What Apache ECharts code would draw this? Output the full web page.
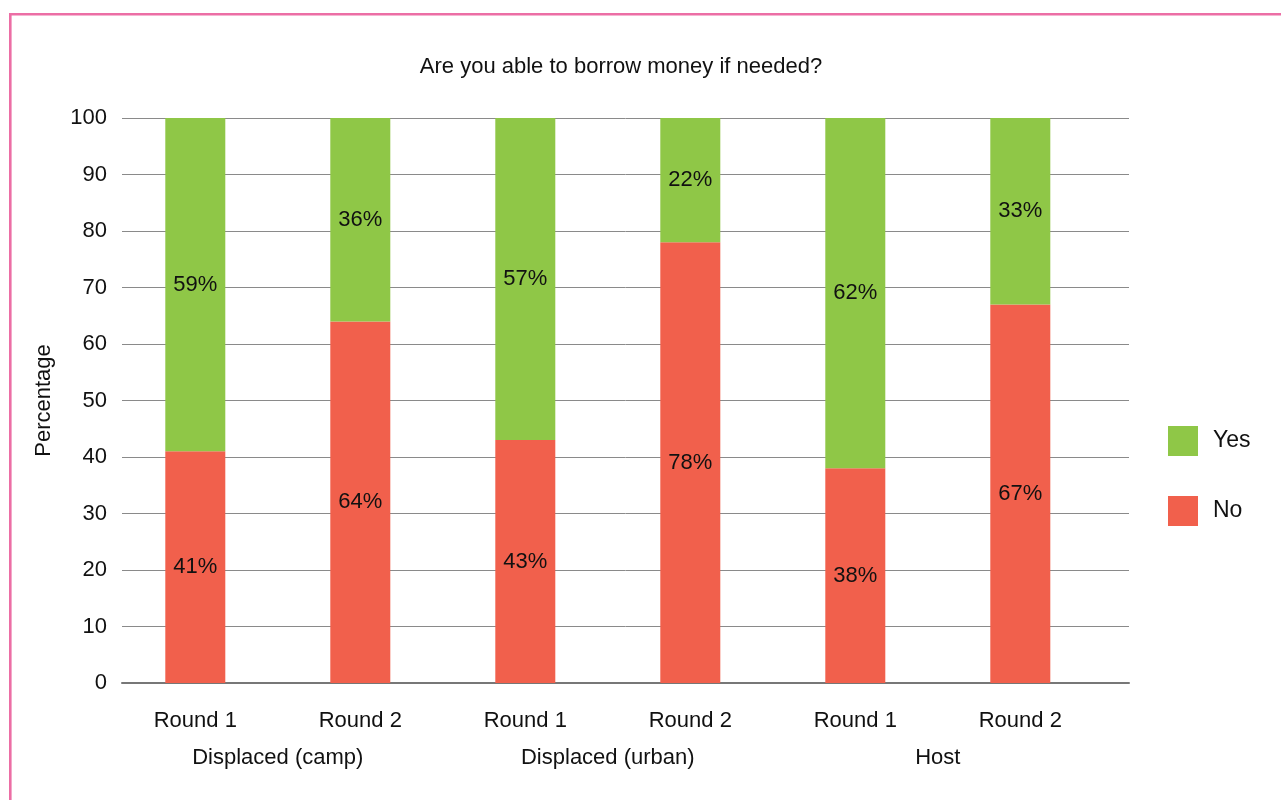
<!DOCTYPE html>
<html>
<head>
<meta charset="utf-8">
<script src="https://cdn.jsdelivr.net/npm/echarts@6/dist/echarts.min.js"></script>
<style>html,body{margin:0;padding:0;background:#fff;}#c{width:1281px;height:800px;}</style>
</head>
<body>
<div id="c"></div>
<script>
const title = 'Are you able to borrow money if needed?';
const rounds = ['Round 1', 'Round 2', 'Round 1', 'Round 2', 'Round 1', 'Round 2'];
const groups = ['Displaced (camp)', 'Displaced (urban)', 'Host'];
const noValues = [41, 64, 43, 78, 38, 67];
const yesValues = [59, 36, 57, 22, 62, 33];
const yTicks = [0, 10, 20, 30, 40, 50, 60, 70, 80, 90, 100];

const FONT = '"Liberation Sans", Arial, sans-serif';
const FS = 22;
const chart = echarts.init(document.getElementById('c'), null, {renderer: 'canvas'});
const gridTop = 118, gridBottom = 800 - 683;
chart.setOption({
  backgroundColor: '#ffffff',
  animation: false,
  textStyle: {fontFamily: FONT, color: '#111'},
  title: {text: title, left: 616, textAlign: 'center', top: 51,
    textStyle: {fontFamily: FONT, fontSize: FS, fontWeight: 'normal', color: '#111'}},
  graphic: [{type: 'rect', shape: {x: 10.3, y: 14.3, width: 1300, height: 820},
    style: {fill: 'none', stroke: '#ec6ea5', lineWidth: 2.6}, silent: true}],
  legend: {
    orient: 'vertical', left: 1168, top: 426, padding: 0, itemWidth: 30, itemHeight: 30, itemGap: 40,
    data: ['Yes', 'No'], textStyle: {fontFamily: FONT, fontSize: 23, color: '#111', padding: [2, 0, 0, 10]},
    icon: 'rect'
  },
  grid: [
    {left: 122, right: 1281 - 1129, top: gridTop, bottom: gridBottom},
    {left: 112.8, right: 1281 - 1102.8, top: gridTop, bottom: gridBottom}
  ],
  xAxis: [
    {type: 'value', gridIndex: 0, min: 0, max: 1, show: true,
      axisLine: {show: true, onZero: false, lineStyle: {color: '#777', width: 2}},
      axisTick: {show: false}, axisLabel: {show: false}, splitLine: {show: false}},
    {type: 'category', gridIndex: 1, data: rounds,
      axisLine: {show: false}, axisTick: {show: false},
      axisLabel: {fontFamily: FONT, fontSize: FS, color: '#111', margin: 27}},
    {type: 'category', gridIndex: 1, data: groups, position: 'bottom', offset: 37,
      axisLine: {show: false}, axisTick: {show: false},
      axisLabel: {fontFamily: FONT, fontSize: FS, color: '#111', margin: 27}}
  ],
  yAxis: [
    {type: 'value', gridIndex: 0, min: 0, max: 100, interval: 10,
      name: 'Percentage', nameLocation: 'middle', nameGap: 67,
      nameTextStyle: {fontFamily: FONT, fontSize: FS, color: '#111'},
      axisLine: {show: false}, axisTick: {show: false},
      axisLabel: {fontFamily: FONT, fontSize: FS, color: '#111', margin: 15,
        formatter: v => yTicks.includes(v) ? String(v) : ''},
      splitLine: {show: true, lineStyle: {color: '#8a8a8a', width: 1}}},
    {type: 'value', gridIndex: 1, min: 0, max: 100, interval: 10, show: false, splitLine: {show: false}}
  ],
  series: [
    {name: 'No', type: 'bar', stack: 's', xAxisIndex: 1, yAxisIndex: 1, data: noValues,
      barWidth: 60, itemStyle: {color: '#f1604c'},
      label: {show: true, position: 'inside', formatter: '{c}%', fontFamily: FONT, fontSize: FS, color: '#111'}},
    {name: 'Yes', type: 'bar', stack: 's', xAxisIndex: 1, yAxisIndex: 1, data: yesValues,
      barWidth: 60, itemStyle: {color: '#8fc747'},
      label: {show: true, position: 'inside', formatter: '{c}%', fontFamily: FONT, fontSize: FS, color: '#111'}}
  ]
});
</script>
</body>
</html>
